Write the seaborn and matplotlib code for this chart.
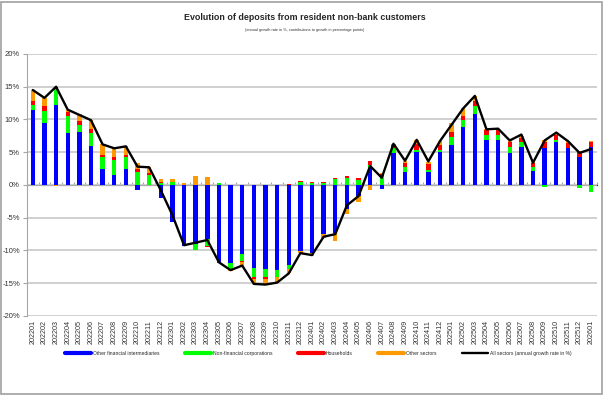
import numpy as np
import pandas as pd
import matplotlib
matplotlib.use("Agg")
import matplotlib.pyplot as plt
from matplotlib.lines import Line2D
from matplotlib.patches import Rectangle
import seaborn as sns

# Categories: monthly observations 2022-01 .. 2026-01
months = [f"{y}{m:02d}" for y in range(2022, 2027) for m in range(1, 13)][:49]

# Contributions to growth (percentage points)
ofi = [11.5, 9.4, 12.2, 7.9, 8.1, 5.9, 2.4, 1.5, 2.4, -0.8, 0.0, -2.0,
       -5.6, -9.3, -9.0, -8.2, -11.8, -11.9, -10.5, -12.7, -12.9, -13.0, -12.2, -10.1,
       -10.4, -7.5, -7.4, -3.7, -1.7, 2.6, -0.65, 4.85, 2.0, 5.1, 2.0, 5.0,
       6.1, 8.8, 10.9, 6.8, 6.8, 4.95, 5.75, 2.1, 5.7, 6.6, 5.7, 4.25, 5.75]
nfc = [0.7, 1.9, 2.4, 2.6, 1.1, 2.1, 1.9, 2.3, 1.9, 2.0, 1.5, 0.35,
       0.4, 0.0, -1.0, -1.1, 0.25, -0.9, -1.1, -1.3, -1.1, -1.0, -0.6, 0.45,
       0.3, 0.35, 0.9, 1.1, 0.8, 0.5, 1.3, 0.75, 0.8, 0.3, 0.25, 0.4,
       1.3, 1.1, 1.1, 0.85, 0.85, 0.9, 0.75, 0.65, -0.3, 0.25, 0.0, -0.5, -1.1]
households = [0.7, 0.8, 0.4, 0.6, 0.5, 0.5, 0.3, 0.5, 0.3, 0.4, 0.3, 0.1,
              0.05, 0.0, 0.0, -0.2, -0.1, 0.0, -0.2, -0.3, -0.3, -0.1, 0.1, 0.1,
              0.1, 0.1, 0.2, 0.3, 0.2, 0.5, 0.35, 0.5, 0.6, 0.9, 0.9, 0.7,
              0.7, 0.6, 0.75, 0.75, 0.75, 0.75, 0.75, 0.6, 0.9, 0.75, 0.75, 0.85, 0.85]
other = [1.6, 1.2, -0.1, 0.4, 1.1, 1.4, 1.6, 1.3, 1.3, 1.0, 0.9, 0.45,
         0.5, 0.3, 1.3, 1.2, 0.0, -0.3, -0.5, -0.8, -0.8, -0.8, -0.7, -0.35,
         -0.5, -0.6, -1.1, -0.75, -0.9, -0.7, 0.15, 0.15, 0.25, 0.5, 0.35, 0.6,
         1.3, 1.2, 0.85, 0.15, 0.15, 0.15, 0.3, 0.1, 0.2, 0.2, 0.2, 0.1, 0.05]

# Annual growth rate of all sectors (%)
total = [14.5, 13.3, 15.0, 11.5, 10.7, 9.9, 6.2, 5.6, 5.9, 2.8, 2.7, -0.8,
         -4.6, -9.2, -8.8, -8.4, -11.8, -13.0, -12.3, -15.1, -15.2, -14.9, -13.5, -10.4,
         -10.7, -7.9, -7.5, -3.1, -1.7, 2.9, 1.1, 6.3, 3.7, 6.9, 3.6, 6.7,
         9.2, 11.7, 13.6, 8.5, 8.6, 6.8, 7.7, 3.4, 6.8, 8.0, 6.7, 4.9, 5.5]

series = [
    ("Other financial intermediaries", ofi, "#0000FF"),
    ("Non-financial corporations", nfc, "#00FF00"),
    ("Households", households, "#FF0000"),
    ("Other sectors", other, "#FF9900"),
]

sns.set_style("white")
plt.rcParams["font.family"] = ["Liberation Sans", "DejaVu Sans"]

fig = plt.figure(figsize=(6.04, 3.95), dpi=100)
ax = fig.add_axes([0.0447, 0.2, 0.9437, 0.6633])

# Stacked bars: positive parts stack upward, negative parts downward
pos_base = np.zeros(len(months))
neg_base = np.zeros(len(months))
for name, vals, color in series:
    vals = np.asarray(vals, dtype=float)
    bottom = np.where(vals >= 0, pos_base, neg_base)
    sns.barplot(x=months, y=vals, bottom=bottom, color=color, order=months,
                width=0.38, saturation=1, linewidth=0, errorbar=None, ax=ax, zorder=3)
    pos_base = pos_base + np.clip(vals, 0, None)
    neg_base = neg_base + np.clip(vals, None, 0)

df_line = pd.DataFrame({"pos": np.arange(len(months)), "total": total})
sns.lineplot(data=df_line, x="pos", y="total", color="black", linewidth=1.7, ax=ax, zorder=4)

ax.set_xlim(-0.5, len(months) - 0.5)
ax.set_ylim(-20, 20)
ax.set_yticks(range(-20, 21, 5))
ax.set_yticklabels([f"{v}%" for v in range(-20, 21, 5)], fontsize=5.5, color="#333333")
ax.set_xticks(range(len(months)))
ax.set_xticklabels(months, rotation=90, fontsize=5.2, color="#333333")
ax.tick_params(axis="x", length=0, pad=3)
ax.tick_params(axis="y", length=3, width=0.8, color="#a6a6a6", pad=2, left=True)
ax.set_xlabel("")
ax.set_ylabel("")
ax.grid(axis="y", color="#c8c8c8", linewidth=1.2, zorder=0)
ax.set_axisbelow(True)
for s in ["top", "right", "bottom"]:
    ax.spines[s].set_visible(False)
ax.spines["left"].set_color("#a6a6a6")
ax.spines["left"].set_linewidth(0.8)

# category axis crossing at 0 with tick marks between categories
sec = ax.secondary_xaxis(0.5)
sec.set_xticks(np.arange(len(months) + 1) - 0.5)
sec.set_xticklabels([])
sec.tick_params(length=2.5, width=0.8, color="#a6a6a6", direction="out")
sec.spines["bottom"].set_color("#a6a6a6")
sec.spines["bottom"].set_linewidth(0.8)

fig.text(0.505, 0.955, "Evolution of deposits from resident non-bank customers",
         ha="center", va="center", fontsize=6.4, fontweight="bold",
         family=["Liberation Sans Narrow", "Liberation Sans"])
fig.text(0.505, 0.924, "(annual growth rate in %, contributions to growth in percentage points)",
         ha="center", va="center", fontsize=2.8, color="#333333")

handles = [Line2D([0], [0], color=c, lw=3) for _, _, c in series]
handles.append(Line2D([0], [0], color="black", lw=1.7))
labels = [n for n, _, _ in series] + ["All sectors (annual growth rate in %)"]
fig.legend(handles, labels, loc="center", bbox_to_anchor=(0.527, 0.106), ncol=5,
           frameon=False, fontsize=3.6, handlelength=5.2, handletextpad=0.5,
           columnspacing=5.0)

fig.patches.append(Rectangle((0.002, 0.002), 0.994, 0.994, transform=fig.transFigure,
                             fill=False, edgecolor="#a0a0a0", linewidth=1.2))

fig.savefig("out.png", dpi=100)
